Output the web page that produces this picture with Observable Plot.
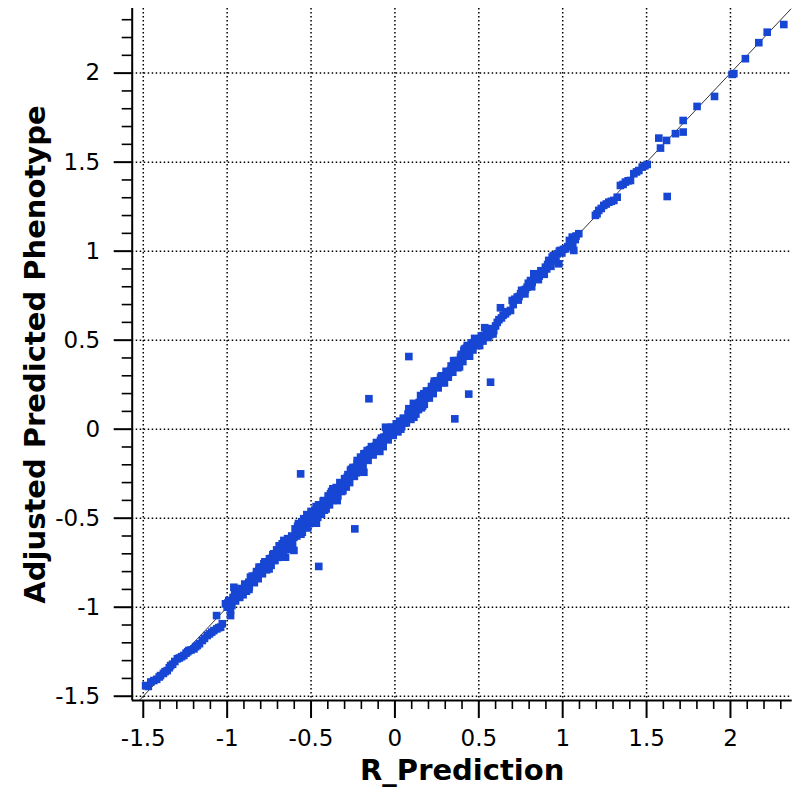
<!DOCTYPE html>
<html>
<head>
<meta charset="utf-8">
<script src="https://cdn.jsdelivr.net/npm/d3@7"></script>
<script src="https://cdn.jsdelivr.net/npm/@observablehq/plot@0.6"></script>
<style>
  body { margin: 0; background: #fff; }
  svg { display: block; }
</style>
</head>
<body>
<div id="chart"></div>
<script>
// R_Prediction (x) and adjusted predicted phenotype (y), one entry per sample
const rPrediction = [
  -1.486,-1.470,-1.455,-1.437,-1.420,-1.405,-1.397,-1.380,-1.370,-1.357,-1.345,-1.337,-1.325,-1.312,-1.297,-1.285,-1.272,-1.258,-1.245,-1.235,-1.228,-1.215,-1.198,-1.188,-1.178,-1.165,-1.148,-1.135,-1.119,-1.105,-1.092,-1.079,-1.062,-1.050,-1.039,-1.029,-1.063,
  -1.010,-1.000,-0.995,-0.990,-0.980,-0.980,-0.972,-0.960,-0.955,-0.945,-0.932,-0.920,-0.910,-0.900,-0.890,-0.880,-0.871,-0.861,-0.855,-0.845,-0.841,-0.830,-0.821,-0.811,-0.805,-0.795,-0.781,-0.781,-0.770,-0.760,-0.751,-0.741,-0.735,-0.722,-0.722,-0.710,-0.700,-0.692,-0.682,-0.672,-0.662,-0.652,-0.645,-0.635,-0.620,-0.602,-0.602,
  -0.965,-0.950,-0.938,-0.925,-0.905,-0.895,-0.885,-0.868,-0.850,-0.838,-0.825,-0.815,-0.800,-0.790,-0.775,-0.765,-0.748,-0.738,-0.728,-0.715,-0.705,-0.695,-0.686,-0.676,-0.665,-0.655,-0.640,-0.630,-0.615,-0.610,
  -0.590,-0.582,-0.575,-0.568,-0.562,-0.552,-0.543,-0.543,-0.530,-0.520,-0.513,-0.505,-0.495,-0.485,-0.473,-0.468,-0.463,-0.454,-0.450,-0.443,-0.433,-0.424,-0.415,-0.403,-0.395,-0.384,-0.384,-0.374,-0.364,-0.355,-0.344,-0.344,-0.335,-0.325,-0.315,-0.305,-0.295,-0.284,-0.275,-0.265,-0.260,-0.254,-0.245,-0.239,-0.235,-0.225,-0.225,-0.215,-0.205,-0.195,-0.185,-0.185,-0.175,-0.165,-0.155,-0.150,-0.145,-0.135,-0.126,-0.115,-0.105,-0.096,-0.086,-0.075,-0.066,-0.056,-0.056,-0.045,-0.035,-0.026,-0.015,-0.007,0.004,
  -0.595,-0.585,-0.575,-0.560,-0.555,-0.535,-0.525,-0.510,-0.500,-0.490,-0.478,-0.460,-0.455,-0.438,-0.428,-0.410,-0.398,-0.390,-0.378,-0.368,-0.350,-0.340,-0.328,-0.318,-0.300,-0.290,-0.280,-0.270,-0.250,-0.242,-0.230,-0.218,-0.210,-0.198,-0.190,-0.170,-0.160,-0.140,-0.130,-0.110,-0.100,-0.080,-0.070,-0.050,-0.040,-0.020,-0.010,0.008,
  -0.930,-0.870,-0.810,-0.750,-0.690,-0.640,-0.580,-0.520,-0.470,-0.420,-0.370,-0.310,-0.260,-0.200,-0.150,-0.090,-0.030,
  0.012,0.022,0.033,0.043,0.055,0.063,0.073,0.083,0.083,0.090,0.100,0.113,0.120,0.133,0.140,0.150,0.153,0.162,0.172,0.172,0.182,0.192,0.200,0.212,0.222,0.232,0.232,0.242,0.252,0.262,0.272,0.272,0.282,0.291,0.300,0.312,0.312,0.322,0.331,0.341,0.351,0.351,0.357,0.361,0.371,0.381,0.391,0.400,0.411,0.411,0.420,0.431,0.431,0.440,0.441,0.451,0.461,0.470,0.480,0.490,0.490,0.500,0.510,0.520,0.530,0.540,0.550,0.560,0.570,0.570,0.580,0.589,
  0.018,0.028,0.040,0.050,0.068,0.078,0.095,0.105,0.125,0.145,0.158,0.175,0.188,0.205,0.218,0.228,0.248,0.258,0.278,0.288,0.305,0.318,0.335,0.345,0.365,0.375,0.395,0.405,0.425,0.436,0.455,0.465,0.485,0.495,0.515,0.525,0.545,0.555,0.575,0.585,
  0.035,0.110,0.165,0.235,0.295,0.350,0.385,0.415,0.445,0.475,0.505,0.535,0.565,
  0.600,0.610,0.620,0.629,0.635,0.645,0.659,0.670,0.689,0.699,0.705,0.715,0.729,0.740,0.749,0.760,0.768,0.778,0.788,0.800,0.808,0.818,0.828,0.838,0.848,0.860,0.877,0.887,0.897,0.905,0.917,0.927,0.937,0.950,0.967,0.977,0.987,0.995,1.017,1.030,1.047,1.057,1.066,1.080,1.096,
  0.735,0.755,0.775,0.795,0.815,0.835,0.855,0.870,0.890,0.910,0.930,0.945,0.960,0.980,1.005,1.040,1.060,1.075,
  1.195,1.205,1.215,1.230,1.245,1.260,1.275,1.290,1.305,1.325,1.344,1.360,1.374,1.390,1.404,1.424,1.440,1.454,1.474,1.490,1.504,
  1.573,1.619,1.583,1.623,1.672,1.718,1.718,1.801,1.905,2.010,2.020,2.089,2.169,2.219,2.318
];
const adjustedPhenotype = [
  -1.440,-1.445,-1.420,-1.412,-1.405,-1.392,-1.384,-1.372,-1.362,-1.356,-1.340,-1.328,-1.320,-1.305,-1.290,-1.285,-1.278,-1.271,-1.258,-1.250,-1.243,-1.240,-1.234,-1.222,-1.215,-1.205,-1.187,-1.175,-1.159,-1.150,-1.140,-1.131,-1.122,-1.115,-1.112,-1.093,-1.047,
  -0.981,-1.000,-0.975,-0.962,-1.019,-1.047,-0.990,-0.888,-0.930,-0.940,-0.922,-0.916,-0.900,-0.905,-0.888,-0.875,-0.860,-0.831,-0.858,-0.845,-0.831,-0.822,-0.812,-0.794,-0.805,-0.788,-0.775,-0.756,-0.768,-0.750,-0.756,-0.738,-0.725,-0.719,-0.700,-0.705,-0.690,-0.700,-0.672,-0.644,-0.625,-0.719,-0.660,-0.640,-0.625,-0.607,-0.681,
  -0.945,-0.965,-0.905,-0.945,-0.930,-0.870,-0.910,-0.885,-0.825,-0.862,-0.800,-0.840,-0.775,-0.812,-0.745,-0.790,-0.728,-0.765,-0.705,-0.738,-0.678,-0.720,-0.655,-0.700,-0.680,-0.640,-0.615,-0.665,-0.600,-0.645,
  -0.585,-0.569,-0.552,-0.575,-0.251,-0.579,-0.503,-0.525,-0.515,-0.498,-0.485,-0.500,-0.480,-0.470,-0.522,-0.528,-0.466,-0.771,-0.445,-0.457,-0.430,-0.401,-0.420,-0.419,-0.395,-0.382,-0.363,-0.372,-0.363,-0.350,-0.344,-0.401,-0.330,-0.320,-0.315,-0.307,-0.290,-0.270,-0.288,-0.232,-0.255,-0.232,-0.230,-0.560,-0.215,-0.195,-0.176,-0.200,-0.157,-0.180,-0.242,-0.138,-0.160,-0.120,0.171,-0.140,-0.120,-0.110,-0.101,-0.095,-0.082,-0.082,-0.063,-0.070,-0.045,-0.045,0.011,-0.030,-0.020,-0.026,-0.005,-0.007,0.011,
  -0.560,-0.600,-0.530,-0.590,-0.520,-0.548,-0.480,-0.530,-0.462,-0.515,-0.455,-0.495,-0.425,-0.478,-0.405,-0.448,-0.375,-0.425,-0.350,-0.400,-0.328,-0.375,-0.300,-0.350,-0.278,-0.325,-0.255,-0.300,-0.215,-0.265,-0.245,-0.178,-0.225,-0.160,-0.205,-0.135,-0.175,-0.098,-0.145,-0.075,-0.118,-0.050,-0.098,-0.015,-0.060,0.012,-0.035,0.030,
  -0.895,-0.900,-0.775,-0.785,-0.655,-0.675,-0.545,-0.555,-0.435,-0.455,-0.335,-0.345,-0.225,-0.235,-0.115,-0.125,0.005,
  0.015,0.005,0.030,0.040,0.035,0.058,0.058,0.408,0.115,0.080,0.075,0.067,0.100,0.124,0.110,0.135,0.189,0.150,0.161,0.199,0.175,0.199,0.190,0.217,0.210,0.236,0.255,0.240,0.255,0.262,0.274,0.292,0.280,0.292,0.300,0.311,0.320,0.318,0.330,0.340,0.348,0.367,0.058,0.360,0.367,0.385,0.404,0.395,0.424,0.442,0.415,0.442,0.470,0.197,0.455,0.460,0.461,0.475,0.480,0.480,0.500,0.495,0.498,0.510,0.520,0.517,0.530,0.540,0.536,0.264,0.550,0.554,
  -0.015,0.045,0.015,0.062,0.035,0.085,0.055,0.105,0.085,0.150,0.120,0.140,0.215,0.175,0.240,0.200,0.272,0.232,0.300,0.262,0.325,0.292,0.355,0.320,0.385,0.345,0.420,0.380,0.455,0.420,0.485,0.445,0.505,0.470,0.525,0.495,0.548,0.515,0.565,0.535,
  0.000,0.145,0.130,0.270,0.260,0.385,0.350,0.450,0.410,0.510,0.470,0.570,0.530,
  0.580,0.600,0.615,0.682,0.625,0.640,0.648,0.660,0.667,0.723,0.700,0.730,0.742,0.745,0.761,0.765,0.779,0.785,0.798,0.805,0.835,0.825,0.873,0.845,0.854,0.860,0.873,0.885,0.910,0.900,0.948,0.930,0.966,0.955,0.985,0.929,1.004,0.990,1.013,1.025,1.042,1.079,1.004,1.085,1.098,
  0.725,0.780,0.760,0.820,0.800,0.865,0.840,0.890,0.870,0.925,0.915,0.975,0.945,1.000,1.010,1.060,1.040,1.065,
  1.201,1.210,1.229,1.240,1.257,1.265,1.275,1.280,1.285,1.303,1.369,1.375,1.388,1.395,1.397,1.435,1.445,1.453,1.472,1.480,1.487,
  1.635,1.622,1.579,1.307,1.660,1.669,1.734,1.813,1.869,1.993,1.997,2.081,2.171,2.230,2.273
];

// Identity reference line y = x
const identityLine = [-1.52, 2.36];

// Axis ticks and their labels
const xTicks = [-1.5, -1, -0.5, 0, 0.5, 1, 1.5, 2];
const xTickLabels = ["-1.5", "-1", "-0.5", "0", "0.5", "1", "1.5", "2"];
const yTicks = [-1.5, -1, -0.5, 0, 0.5, 1, 1.5, 2];
const yTickLabels = ["-1.5", "-1", "-0.5", "0", "0.5", "1", "1.5", "2"];
const xDomain = [-1.566, 2.368];
const yDomain = [-1.524, 2.363];

const xTitle = "R_Prediction";
const yTitle = "Adjusted Predicted Phenotype";

// minor ticks every 0.1 between the labelled ones
const minorOf = (dom, majors) => d3.range(-15, 24)
  .map(k => k / 10)
  .filter(v => v >= dom[0] && v <= dom[1] && !majors.some(m => Math.abs(m - v) < 1e-9));
const xMinor = minorOf(xDomain, xTicks);
const yMinor = minorOf(yDomain, yTicks);

const points = rPrediction.map((x, i) => ({x, y: adjustedPhenotype[i]}));
const diag = identityLine.map(v => ({x: v, y: v}));

const font = "DejaVu Sans, Verdana, sans-serif";
const gridStyle = {stroke: "#000", strokeOpacity: 1, strokeWidth: 1.5, strokeDasharray: "1.5,2.5"};

const chart = Plot.plot({
  width: 800,
  height: 787,
  marginLeft: 131.7,
  marginRight: 8.3,
  marginTop: 8,
  marginBottom: 87,
  style: {fontFamily: font, color: "#000", background: "#fff", overflow: "visible"},
  x: {domain: xDomain, axis: null},
  y: {domain: yDomain, axis: null},
  marks: [
    // dotted grid at the labelled ticks
    Plot.gridX({ticks: xTicks, ...gridStyle}),
    Plot.gridY({ticks: yTicks, ...gridStyle}),
    // y = x reference
    Plot.line(diag, {x: "x", y: "y", stroke: "#333", strokeWidth: 1}),
    // samples
    Plot.dot(points, {x: "x", y: "y", symbol: "square", r: 4.3, fill: "#1746d4", stroke: "none"}),
    // axis lines
    Plot.ruleX([xDomain[0]], {stroke: "#000", strokeWidth: 2}),
    Plot.ruleY([yDomain[0]], {stroke: "#000", strokeWidth: 2}),
    // major ticks with labels
    Plot.axisX({ticks: xTicks, label: null, tickSize: 18, tickPadding: 11, strokeWidth: 2, stroke: "#000",
      tickFormat: (d, i) => xTickLabels[i], fontSize: 23, fill: "#000"}),
    Plot.axisY({ticks: yTicks, label: null, tickSize: 18, tickPadding: 14, strokeWidth: 2, stroke: "#000",
      tickFormat: (d, i) => yTickLabels[i], fontSize: 23, fill: "#000"}),
    // minor ticks
    Plot.axisX({ticks: xMinor, label: null, tickSize: 9, strokeWidth: 1.6, stroke: "#000", tickFormat: () => ""}),
    Plot.axisY({ticks: yMinor, label: null, tickSize: 10, strokeWidth: 1.6, stroke: "#000", tickFormat: () => ""}),
    // axis titles
    Plot.text([xTitle], {frameAnchor: "bottom", dy: 70, textAnchor: "middle", lineAnchor: "middle", fontSize: 29, fontWeight: "bold", fill: "#000"}),
    Plot.text([yTitle], {frameAnchor: "left", dx: -96, rotate: -90, textAnchor: "middle", lineAnchor: "middle", fontSize: 29, fontWeight: "bold", fill: "#000"})
  ]
});

document.getElementById("chart").appendChild(chart);
</script>
</body>
</html>
